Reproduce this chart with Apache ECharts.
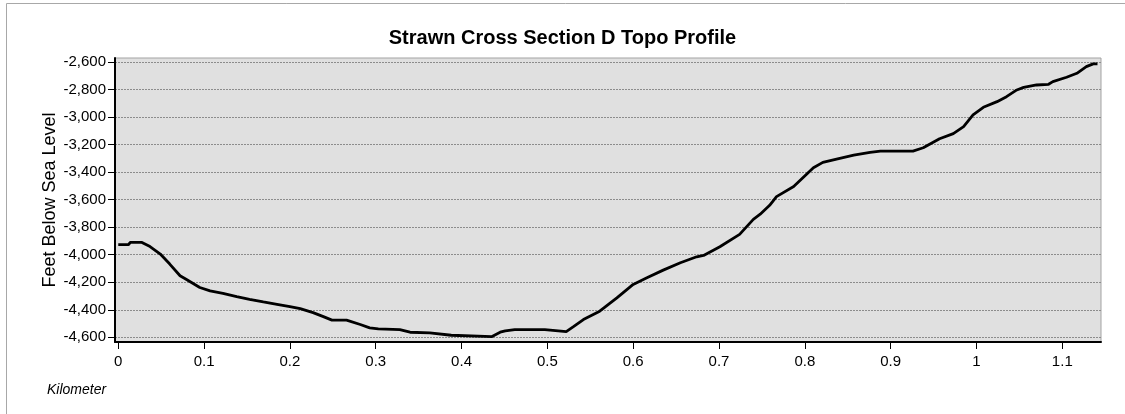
<!DOCTYPE html>
<html>
<head>
<meta charset="utf-8">
<title>Strawn Cross Section D Topo Profile</title>
<script src="https://cdn.jsdelivr.net/npm/echarts@6/dist/echarts.min.js"></script>
<style>
  html, body { margin: 0; padding: 0; background: #ffffff; }
  #chart { width: 1125px; height: 414px; }
</style>
</head>
<body>
<div id="chart"></div>
<script>
// Distance along the section line (km)
const distanceKm = [
  0.000, 0.012, 0.014, 0.027, 0.037, 0.049, 0.060, 0.072, 0.080, 0.095,
  0.107, 0.122, 0.138, 0.153, 0.169, 0.185, 0.200, 0.212, 0.227, 0.239,
  0.249, 0.266, 0.282, 0.293, 0.303, 0.328, 0.340, 0.363, 0.365, 0.388,
  0.390, 0.435, 0.445, 0.451, 0.462, 0.497, 0.499, 0.522, 0.530, 0.542,
  0.561, 0.581, 0.600, 0.616, 0.635, 0.655, 0.674, 0.682, 0.701, 0.724,
  0.740, 0.748, 0.759, 0.767, 0.787, 0.810, 0.821, 0.837, 0.857, 0.876,
  0.888, 0.926, 0.938, 0.957, 0.973, 0.985, 0.996, 1.008, 1.024, 1.035,
  1.047, 1.055, 1.070, 1.084, 1.089, 1.105, 1.117, 1.128, 1.136, 1.141
];

// Surface of the Strawn at each station (feet below sea level)
const elevationFt = [
  -3927, -3927, -3910, -3910, -3941, -3995, -4068, -4153, -4182, -4238,
  -4263, -4280, -4304, -4324, -4343, -4360, -4377, -4392, -4421, -4450,
  -4475, -4475, -4507, -4531, -4539, -4544, -4563, -4568, -4580, -4585,
  -4595, -4595, -4563, -4553, -4544, -4544, -4556, -4558, -4524, -4471,
  -4410, -4313, -4216, -4168, -4112, -4058, -4015, -4005, -3942, -3852,
  -3743, -3706, -3641, -3578, -3505, -3368, -3329, -3305, -3276, -3256,
  -3247, -3247, -3223, -3158, -3120, -3070, -2985, -2929, -2888, -2852,
  -2803, -2784, -2767, -2762, -2743, -2711, -2682, -2634, -2614, -2614
];

// Tick positions
const xTicks = [0, 0.1, 0.2, 0.3, 0.4, 0.5, 0.6, 0.7, 0.8, 0.9, 1.0, 1.1];
const yTicks = [-4600, -4400, -4200, -4000, -3800, -3600, -3400, -3200, -3000, -2800, -2600];

const titleText = 'Strawn Cross Section D Topo Profile';
const yName = 'Feet Below Sea Level';
const xName = 'Kilometer';

const FONT = '"Liberation Sans", Arial, sans-serif';

const profile = distanceKm.map((d, i) => [d, elevationFt[i]]);

const chart = echarts.init(document.getElementById('chart'), null, { renderer: 'canvas' });

chart.setOption({
  backgroundColor: '#ffffff',
  animation: false,
  title: {
    text: titleText,
    left: 'center',
    top: 23,
    textStyle: { fontFamily: FONT, fontSize: 20, fontWeight: 'bold', color: '#000000' }
  },
  grid: {
    left: 115,
    right: 24,
    top: 58,
    bottom: 72,
    show: true,
    backgroundColor: '#e0e0e0',
    borderColor: '#a3a3a3',
    borderWidth: 1
  },
  xAxis: {
    type: 'value',
    min: -0.0038,
    max: 1.1451,
    axisLine: { show: true, onZero: false, lineStyle: { color: '#000000', width: 2 } },
    axisTick: { show: true, inside: false, length: 7, customValues: xTicks,
      lineStyle: { color: '#000000', width: 1 } },
    axisLabel: {
      customValues: xTicks,
      margin: 12,
      fontFamily: FONT, fontSize: 15, color: '#000000',
      formatter: v => String(Math.round(v * 10) / 10)
    },
    splitLine: { show: false }
  },
  yAxis: {
    type: 'value',
    min: -4634,
    max: -2571,
    name: yName,
    nameLocation: 'middle',
    nameRotate: 90,
    nameGap: 56,
    nameMoveOverlap: false,
    nameTextStyle: { fontFamily: FONT, fontSize: 18, color: '#000000' },
    axisLine: { show: true, onZero: false, lineStyle: { color: '#000000', width: 2 } },
    axisTick: { show: true, inside: false, length: 7, customValues: yTicks,
      lineStyle: { color: '#000000', width: 1 } },
    axisLabel: {
      customValues: yTicks,
      margin: 9,
      fontFamily: FONT, fontSize: 15, color: '#000000',
      formatter: v => Math.round(v).toLocaleString('en-US')
    },
    splitLine: { show: true, lineStyle: { color: '#8c8c8c', width: 1, type: [2, 1] } }
  },
  series: [{
    type: 'line',
    data: profile,
    showSymbol: false,
    smooth: false,
    lineStyle: { color: '#000000', width: 2.8 },
    z: 5
  }],
  graphic: [
    // frame lines around the figure
    { type: 'line', shape: { x1: 6.5, y1: 3.5, x2: 1125, y2: 3.5 }, style: { stroke: '#a8a8a8', lineWidth: 1 }, silent: true },
    { type: 'line', shape: { x1: 6.5, y1: 3.5, x2: 6.5, y2: 414 }, style: { stroke: '#a8a8a8', lineWidth: 1 }, silent: true },
    {
      type: 'text', left: 47, top: 383, silent: true,
      style: { text: xName, fontFamily: FONT, fontSize: 14, fontStyle: 'italic', fill: '#000000' }
    }
  ]
});
</script>
</body>
</html>
